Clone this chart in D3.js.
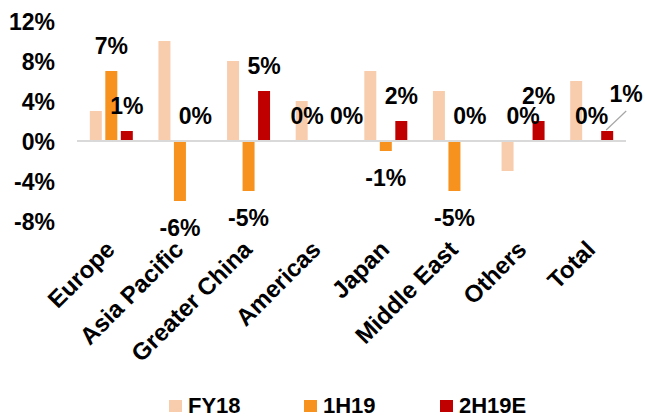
<!DOCTYPE html>
<html>
<head>
<meta charset="utf-8">
<script src="https://cdn.jsdelivr.net/npm/d3@7"></script>
<style>
  html, body { margin: 0; padding: 0; background: #fff; }
  svg text { font-family: "Liberation Sans", Arial, sans-serif; font-weight: bold; fill: #000; }
</style>
</head>
<body>
<svg id="chart" width="645" height="418"></svg>
<script>
// ---- data ----
const categories = ["Europe", "Asia Pacific", "Greater China", "Americas", "Japan", "Middle East", "Others", "Total"];
const seriesNames = ["FY18", "1H19", "2H19E"];
const fy18  = [3, 10, 8, 4, 7, 5, -3, 6];
const h119  = [7, -6, -5, 0, -1, -5, 0, 0];
const h219e = [1, 0, 5, 0, 2, 0, 2, 1];
const yTicks = [-8, -4, 0, 4, 8, 12];
const labelledSeries = ["1H19", "2H19E"];

// ---- layout / style ----
const colors = { "FY18": "#F8CDAE", "1H19": "#F7921E", "2H19E": "#C00000" };
const svg = d3.select("#chart");
const plot = { left: 77, right: 626, top: 21, bottom: 221 };

const values = { "FY18": fy18, "1H19": h119, "2H19E": h219e };

const x0 = d3.scaleBand().domain(categories).range([plot.left, plot.right]).paddingInner(0).paddingOuter(0);
const x1 = d3.scaleBand().domain(seriesNames).range([-21.5, 21.5]).paddingInner(0.226);
const y = d3.scaleLinear().domain([-8, 12]).range([plot.bottom, plot.top]);

// y axis labels
const yAxis = d3.axisLeft(y).tickValues(yTicks).tickFormat(d => d + "%").tickSize(0).tickPadding(0);
const yg = svg.append("g").attr("transform", "translate(55,0)").call(yAxis);
yg.select(".domain").remove();
yg.selectAll("text").attr("font-size", 23).attr("dy", "0.36em").style("font-family", null);

// bars
const barData = [];
categories.forEach((c, i) => {
  seriesNames.forEach(s => barData.push({ cat: c, s: s, v: values[s][i] }));
});
const cx = d => x0(d.cat) + x0.bandwidth() / 2 + x1(d.s);
svg.append("g").selectAll("rect").data(barData.filter(d => d.v !== 0)).join("rect")
  .attr("x", d => cx(d))
  .attr("width", x1.bandwidth())
  .attr("y", d => y(Math.max(0, d.v)))
  .attr("height", d => Math.abs(y(d.v) - y(0)))
  .attr("fill", d => colors[d.s]);

// zero line
svg.append("line")
  .attr("x1", plot.left).attr("x2", plot.right)
  .attr("y1", y(0)).attr("y2", y(0))
  .attr("stroke", "#D9D9D9").attr("stroke-width", 2);

// data labels (with manual nudges as in the original)
const nudge = {
  "Americas|1H19": [-10, 0],
  "Americas|2H19E": [14, 0],
  "Total|2H19E": [19, -12]
};
const labels = barData.filter(d => labelledSeries.includes(d.s));
labels.forEach(d => {
  const bx = cx(d) + x1.bandwidth() / 2;
  let ly = d.v >= 0 ? y(d.v) - 25 : y(d.v) + 27;
  const n = nudge[d.cat + "|" + d.s] || [0, 0];
  d.lx = bx + n[0];
  d.ly = ly + n[1];
  d.bx = bx;
  d.leader = d.cat === "Total" && d.s === "2H19E";
});
svg.append("g").selectAll("line").data(labels.filter(d => d.leader)).join("line")
  .attr("x1", d => d.bx - 1).attr("y1", d => y(d.v) - 1)
  .attr("x2", d => d.lx).attr("y2", d => d.ly + 17)
  .attr("stroke", "#A6A6A6").attr("stroke-width", 1.2);
svg.append("g").selectAll("text").data(labels).join("text")
  .attr("x", d => d.lx).attr("y", d => d.ly)
  .attr("dy", "0.36em")
  .attr("text-anchor", "middle")
  .attr("font-size", 23)
  .text(d => d.v + "%");

// category labels
svg.append("g").selectAll("text").data(categories).join("text")
  .attr("transform", d => `translate(${x0(d) + x0.bandwidth() / 2 + 5},251) rotate(-45)`)
  .attr("text-anchor", "end")
  .attr("font-size", 24)
  .text(d => d);

// legend
const legendX = { "FY18": 169, "1H19": 304, "2H19E": 440 };
const lg = svg.append("g").selectAll("g").data(seriesNames).join("g")
  .attr("transform", d => `translate(${legendX[d]},400)`);
lg.append("rect").attr("width", 13).attr("height", 12).attr("fill", d => colors[d]);
lg.append("text").attr("x", 19).attr("y", 12.5).attr("font-size", 22).text(d => d);
</script>
</body>
</html>
